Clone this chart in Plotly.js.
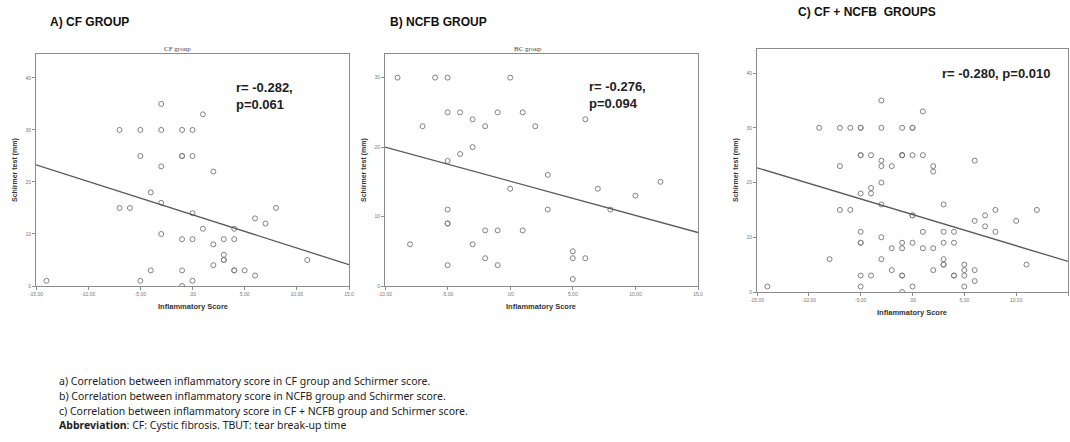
<!DOCTYPE html>
<html>
<head>
<meta charset="utf-8">
<script src="https://cdn.plot.ly/plotly-3.0.1.min.js"></script>
<style>
  html, body { margin: 0; padding: 0; background: #ffffff; }
  #chart { width: 1070px; height: 442px; }
</style>
</head>
<body>
<div id="chart"></div>
<script>
// ---------- DATA ----------
// A) CF group: inflammatory score vs Schirmer test (mm)
const cfX = [-7,-5,-3,-1,0,-3,1,-5,-1,-1,0,-3,2,-4,-3,-7,-6,0,6,7,8,1,4,-3,-1,0,3,4,2,3,3,3,2,-4,-1,4,4,5,6,11,-14,-5,0,-1];
const cfY = [30,30,30,30,30,35,33,25,25,25,25,23,22,18,16,15,15,14,13,12,15,11,11,10,9,9,9,9,8,6,5,5,4,3,3,3,3,3,2,5,1,1,1,0];

// B) NCFB group
const ncfbX = [-9,-6,-5,0,-5,-4,-1,1,-3,6,-7,-2,2,-3,-4,-5,3,0,7,10,12,8,3,-5,-5,-5,-2,-1,1,-8,-3,5,5,6,-2,-5,-1,5];
const ncfbY = [30,30,30,30,25,25,25,25,24,24,23,23,23,20,19,18,16,14,14,13,15,11,11,11,9,9,8,8,8,6,6,5,4,4,4,3,3,1];

// C) CF + NCFB groups
const allX = [-7,-5,-3,-1,0,-3,1,-5,-1,-1,0,-3,2,-4,-3,-7,-6,0,6,7,8,1,4,-3,-1,0,3,4,2,3,3,3,2,-4,-1,4,4,5,6,11,-14,-5,0,-1,
              -9,-6,-5,0,-5,-4,-1,1,-3,6,-7,-2,2,-3,-4,-5,3,0,7,10,12,8,3,-5,-5,-5,-2,-1,1,-8,-3,5,5,6,-2,-5,-1,5];
const allY = [30,30,30,30,30,35,33,25,25,25,25,23,22,18,16,15,15,14,13,12,15,11,11,10,9,9,9,9,8,6,5,5,4,3,3,3,3,3,2,5,1,1,1,0,
              30,30,30,30,25,25,25,25,24,24,23,23,23,20,19,18,16,14,14,13,15,11,11,11,9,9,8,8,8,6,6,5,4,4,4,3,3,1];

// Fit lines (end points)
const fitCfX = [-15, 15],   fitCfY = [23.3, 4.1];
const fitNcfbX = [-10, 15], fitNcfbY = [20.0, 7.7];
const fitAllX = [-15, 15],  fitAllY = [22.7, 5.6];

// Tick labels
const xTickValsWide = [-15, -10, -5, 0, 5, 10, 15];
const xTickTextWide = ["-15.00", "-10.00", "-5.00", ".00", "5.00", "10.00", "15.0"];
const xTickValsB = [-10, -5, 0, 5, 10, 15];
const xTickTextB = ["-10.00", "-5.00", ".00", "5.00", "10.00", "15.0"];
const yTickVals = [0, 10, 20, 30, 40];
const yTickText = ["0", "10", "20", "30", "40"];

// Texts
const panelTitles = ["A) CF GROUP", "B) NCFB GROUP", "C) CF + NCFB  GROUPS"];
const innerTitles = ["CF group", "BC group"];
const statsText = ["r= -0.282,<br>p=0.061", "r= -0.276,<br>p=0.094", "r= -0.280, p=0.010"];
const xAxisTitle = "Inflammatory Score";
const yAxisTitle = "Schirmer test (mm)";
const captionLines = [
  "a) Correlation between inflammatory score in CF group and Schirmer score.",
  "b) Correlation between inflammatory score in NCFB group and Schirmer score.",
  "c) Correlation between inflammatory score in CF + NCFB group and Schirmer score.",
  "<b>Abbreviation</b>: CF: Cystic fibrosis. TBUT: tear break-up time"
];

// ---------- LAYOUT HELPERS ----------
const W = 1070, H = 442;
const px = x => x / W;
const py = y => 1 - y / H;

const pointColor = '#808080';
const lineColor = '#5a5a5a';
const frameColor = '#8c8c8c';

function scatter(x, y, xa, ya) {
  return { x: x, y: y, xaxis: xa, yaxis: ya, type: 'scatter', mode: 'markers',
    marker: { symbol: 'circle-open', size: 5, color: pointColor, line: { width: 1, color: pointColor } },
    hoverinfo: 'skip', showlegend: false };
}
function fit(x, y, xa, ya) {
  return { x: x, y: y, xaxis: xa, yaxis: ya, type: 'scatter', mode: 'lines',
    line: { color: lineColor, width: 1.3 }, hoverinfo: 'skip', showlegend: false };
}
function xAxis(domain, range, vals, text, anchor) {
  return { domain: domain, range: range, anchor: anchor, tickvals: vals, ticktext: text,
    showgrid: false, zeroline: false, showline: true, mirror: true, linecolor: frameColor, linewidth: 1,
    ticks: 'outside', ticklen: 3, tickcolor: frameColor, tickfont: { size: 5, color: '#777', family: 'Liberation Sans, Arial, sans-serif' },
    fixedrange: true };
}
function yAxis(domain, range, anchor) {
  return { domain: domain, range: range, anchor: anchor, tickvals: yTickVals, ticktext: yTickText,
    showgrid: false, zeroline: false, showline: true, mirror: true, linecolor: frameColor, linewidth: 1,
    ticks: 'outside', ticklen: 3, tickcolor: frameColor, tickfont: { size: 5, color: '#777', family: 'Liberation Sans, Arial, sans-serif' },
    fixedrange: true };
}

const data = [
  scatter(cfX, cfY, 'x', 'y'), fit(fitCfX, fitCfY, 'x', 'y'),
  scatter(ncfbX, ncfbY, 'x2', 'y2'), fit(fitNcfbX, fitNcfbY, 'x2', 'y2'),
  scatter(allX, allY, 'x3', 'y3'), fit(fitAllX, fitAllY, 'x3', 'y3')
];

const boldFont = (s, c) => ({ family: 'Liberation Sans, Arial, sans-serif', size: s, color: c || '#111' });
function ann(text, x, y, font, opts) {
  return Object.assign({ text: text, x: px(x), y: py(y), xref: 'paper', yref: 'paper',
    showarrow: false, font: font, xanchor: 'left', yanchor: 'middle' }, opts || {});
}

const annotations = [
  // panel titles
  ann('<b>' + panelTitles[0] + '</b>', 48, 22, boldFont(12)),
  ann('<b>' + panelTitles[1] + '</b>', 388, 22, boldFont(12)),
  ann('<b>' + panelTitles[2] + '</b>', 796, 12, boldFont(12)),
  // inner titles
  ann(innerTitles[0], 177, 49, { family: 'Liberation Serif, serif', size: 7, color: '#444' }, { xanchor: 'center' }),
  ann(innerTitles[1], 528, 49, { family: 'Liberation Serif, serif', size: 7, color: '#444' }, { xanchor: 'center' }),
  // stats
  ann('<b>' + statsText[0] + '</b>', 234, 96, boldFont(13, '#222'), { align: 'left' }),
  ann('<b>' + statsText[1] + '</b>', 587, 95, boldFont(13, '#222'), { align: 'left' }),
  ann('<b>' + statsText[2] + '</b>', 940, 74, boldFont(13, '#222')),
  // x axis titles
  ann('<b>' + xAxisTitle + '</b>', 193, 306, boldFont(7.5, '#333'), { xanchor: 'center' }),
  ann('<b>' + xAxisTitle + '</b>', 541, 306, boldFont(7.5, '#333'), { xanchor: 'center' }),
  ann('<b>' + xAxisTitle + '</b>', 912, 312, boldFont(7.5, '#333'), { xanchor: 'center' }),
  // y axis titles
  ann('<b>' + yAxisTitle + '</b>', 15, 170, boldFont(7, '#333'), { xanchor: 'center', textangle: -90 }),
  ann('<b>' + yAxisTitle + '</b>', 364, 170, boldFont(7, '#333'), { xanchor: 'center', textangle: -90 }),
  ann('<b>' + yAxisTitle + '</b>', 736, 170, boldFont(7, '#333'), { xanchor: 'center', textangle: -90 })
];
const capFont = { family: 'Noto Sans, sans-serif', size: 10.5, color: '#222' };
captionLines.forEach((t, i) => annotations.push(ann(t, 57, 381 + i * 14.8, capFont)));

const layout = {
  width: W, height: H, autosize: false,
  margin: { l: 0, r: 0, t: 0, b: 0, pad: 0 },
  paper_bgcolor: '#ffffff', plot_bgcolor: '#ffffff',
  showlegend: false,
  xaxis:  xAxis([px(36), px(349)], [-15, 15], xTickValsWide, xTickTextWide, 'y'),
  yaxis:  yAxis([py(286), py(54)], [0, 44.6], 'x'),
  xaxis2: xAxis([px(385), px(698)], [-10, 15], xTickValsB, xTickTextB, 'y2'),
  yaxis2: yAxis([py(286), py(54)], [0, 33.4], 'x2'),
  xaxis3: xAxis([px(757), px(1068)], [-15, 15], xTickValsWide, xTickTextWide, 'y3'),
  yaxis3: yAxis([py(292), py(49)], [0, 44.4], 'x3'),
  annotations: annotations
};

Plotly.newPlot('chart', data, layout, { displayModeBar: false, staticPlot: true });
</script>
</body>
</html>
